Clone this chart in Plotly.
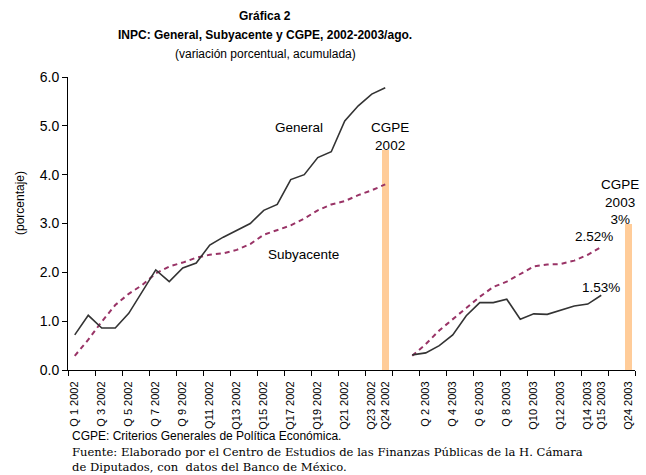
import plotly.graph_objects as go

# Categories (x axis), including blank gap slots
cat_2002 = [("Q %d 2002" % i) if i < 10 else ("Q%d 2002" % i) for i in range(1, 25)]
cat_2003 = [("Q %d 2003" % i) if i < 10 else ("Q%d 2003" % i) for i in range(1, 16)]
categories = cat_2002 + ["gap1"] + cat_2003 + ["gap2", "Q24 2003"]

general_2002 = [0.72, 1.12, 0.86, 0.86, 1.16, 1.61, 2.05, 1.81, 2.09, 2.19, 2.56, 2.72,
                2.86, 3.00, 3.27, 3.39, 3.90, 4.00, 4.35, 4.47, 5.10, 5.41, 5.65, 5.78]
subyacente_2002 = [0.29, 0.62, 0.99, 1.33, 1.56, 1.74, 1.98, 2.12, 2.20, 2.30, 2.36, 2.39,
                   2.46, 2.58, 2.77, 2.87, 2.96, 3.10, 3.27, 3.39, 3.46, 3.58, 3.68, 3.80]
general_2003 = [0.31, 0.35, 0.50, 0.72, 1.11, 1.38, 1.38, 1.45, 1.04, 1.15, 1.14, 1.23,
                1.31, 1.35, 1.53]
subyacente_2003 = [0.29, 0.53, 0.81, 1.05, 1.27, 1.50, 1.70, 1.81, 1.97, 2.12, 2.16, 2.17,
                   2.24, 2.36, 2.52]
cgpe_labels = ["Q24 2002", "Q24 2003"]
cgpe_values = [4.5, 3.0]

tick_labels = cat_2002[0::2] + ["Q24 2002"] + cat_2003[1::2] + ["Q15 2003", "Q24 2003"]
y_ticks = [0, 1, 2, 3, 4, 5, 6]

idx = {c: i for i, c in enumerate(categories)}
x02 = [idx[c] for c in cat_2002]
x03 = [idx[c] for c in cat_2003]

fig = go.Figure()
fig.add_trace(go.Bar(x=[idx[c] for c in cgpe_labels], y=cgpe_values, width=0.52,
                     marker=dict(color="#FFCC99", line=dict(width=0)), showlegend=False,
                     hoverinfo="skip"))
for xs, ys in [(x02, subyacente_2002), (x03, subyacente_2003)]:
    fig.add_trace(go.Scatter(x=xs, y=ys, mode="lines", showlegend=False,
                             line=dict(color="#993366", width=2, dash="5px,4px")))
for xs, ys in [(x02, general_2002), (x03, general_2003)]:
    fig.add_trace(go.Scatter(x=xs, y=ys, mode="lines", showlegend=False,
                             line=dict(color="#333333", width=1.6)))

font = "Arial, Liberation Sans, sans-serif"
serif = "DejaVu Serif, serif"
L, R, T, B = 68, 11, 77, 105
W, H = 646, 475
PW, PH = W - L - R, H - T - B

fig.update_layout(
    width=W, height=H,
    margin=dict(l=L, r=R, t=T, b=B),
    paper_bgcolor="white", plot_bgcolor="white",
    font=dict(family=font, color="black"),
    xaxis=dict(range=[-0.5, len(categories) - 0.5], showgrid=False, zeroline=False,
               showline=True, linecolor="black", linewidth=1,
               tickmode="array", tickvals=[idx[c] for c in tick_labels], ticktext=tick_labels,
               tickangle=-90, ticks="outside", ticklen=0, tickfont=dict(size=11),
               ticklabelstandoff=6,
               minor=dict(ticks="outside", tick0=-0.5, dtick=2, ticklen=5,
                          tickcolor="black", showgrid=False)),
    yaxis=dict(range=[0, 6], showgrid=False, zeroline=False, showline=True,
               linecolor="black", linewidth=1, tickvals=y_ticks,
               ticktext=["%.1f" % v for v in y_ticks],
               ticks="outside", ticklen=5, tickcolor="black", tickfont=dict(size=14)),
    bargap=0,
)

ann = []
def A(px, py, text, size=13.5, xanchor="center", yanchor="middle", fam=font, **kw):
    ann.append(dict(x=(px - L) / PW, y=(H - B - py) / PH, xref="paper", yref="paper",
                    text=text, showarrow=False, xanchor=xanchor, yanchor=yanchor,
                    font=dict(size=size, family=fam, color="black"), **kw))

A(265, 16, "<b>Gráfica 2</b>", size=12)
A(265, 35, "<b>INPC: General, Subyacente y CGPE, 2002-2003/ago.</b>", size=12)
A(265, 54, "(variación porcentual, acumulada)", size=12)
A(20, 203, "(porcentaje)", size=12, textangle=-90)
A(299, 127, "General")
A(303, 255, "Subyacente")
A(390, 136, "CGPE<br>2002")
A(620, 202, "CGPE<br>2003<br>3%")
A(594, 236, "2.52%")
A(601, 287, "1.53%")
A(70, 436, "CGPE: Criterios Generales de Política Económica.", size=12, xanchor="left")
A(70, 452, "Fuente: Elaborado por el Centro de Estudios de las Finanzas Públicas de la H. Cámara",
  size=11.6, xanchor="left", fam=serif)
A(70, 467, "de Diputados, con  datos del Banco de México.",
  size=11.6, xanchor="left", fam=serif)
fig.update_layout(annotations=ann)

fig.write_html("out.html", post_script="document.body.style.margin='0';",
               config={"displayModeBar": False})
